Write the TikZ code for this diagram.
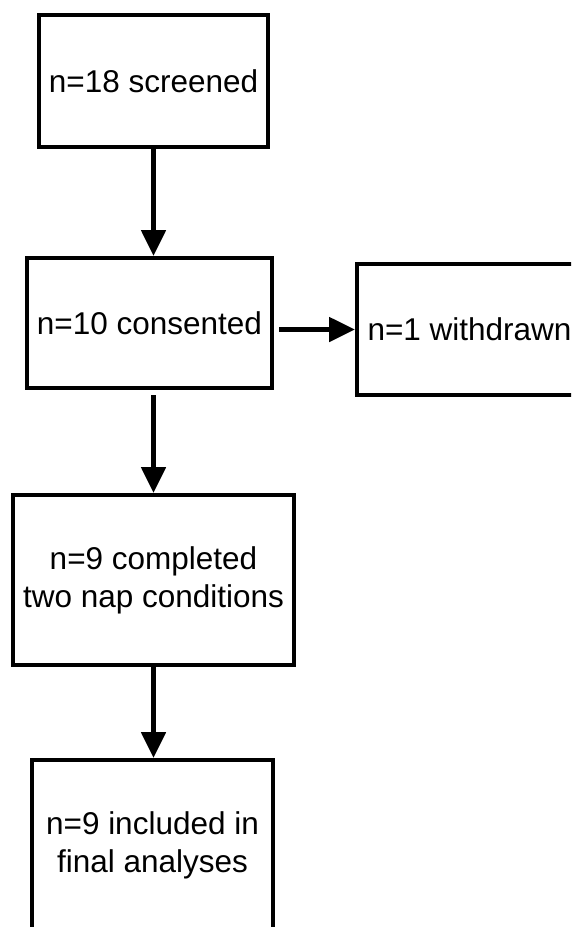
\documentclass[tikz,border=0pt]{standalone}
\usepackage{fontspec}
\setmainfont{Liberation Sans}
\usetikzlibrary{arrows.meta, calc}
\newcommand{\flowArrow}{{Triangle[length=26pt, width=24pt]}}

\begin{document}
\begin{tikzpicture}[x=1pt, y=1pt, font=\fontsize{31.5}{38}\selectfont,
	box/.style={draw, line width=4pt, align=center, inner sep=0pt},
	link/.style={-\flowArrow, line width=5pt}]
	\clip (0,0) rectangle (571,-927);
	
	\node[box, minimum width=229, minimum height=132]	(screened)	at (153.5,-81)	{n=18 screened};
	\node[box, minimum width=245, minimum height=130]	(consented)	at (149.5,-323)	{n=10 consented};
	\node[box, minimum width=225, minimum height=131]	(withdrawn)	at (469.5,-329.5)	{n=1 withdrawn};
	\node[box, minimum width=281, minimum height=170]	(completed)	at (153.5,-580)	{n=9 completed\\two nap conditions};
	\node[box, minimum width=241, minimum height=170]	(included)	at (152.5,-845)	{n=9 included in\\final analyses};
	
	\draw[link]	(screened.south) -- (screened.south |- consented.north);
	\draw[link]	($(consented.east |- withdrawn.west)+(5,0)$) -- (withdrawn.west);
	\draw[link]	($(consented.south -| completed.north)+(0,-5)$) -- (completed.north);
	\draw[link]	(completed.south) -- (completed.south |- included.north);
\end{tikzpicture}
\end{document}
